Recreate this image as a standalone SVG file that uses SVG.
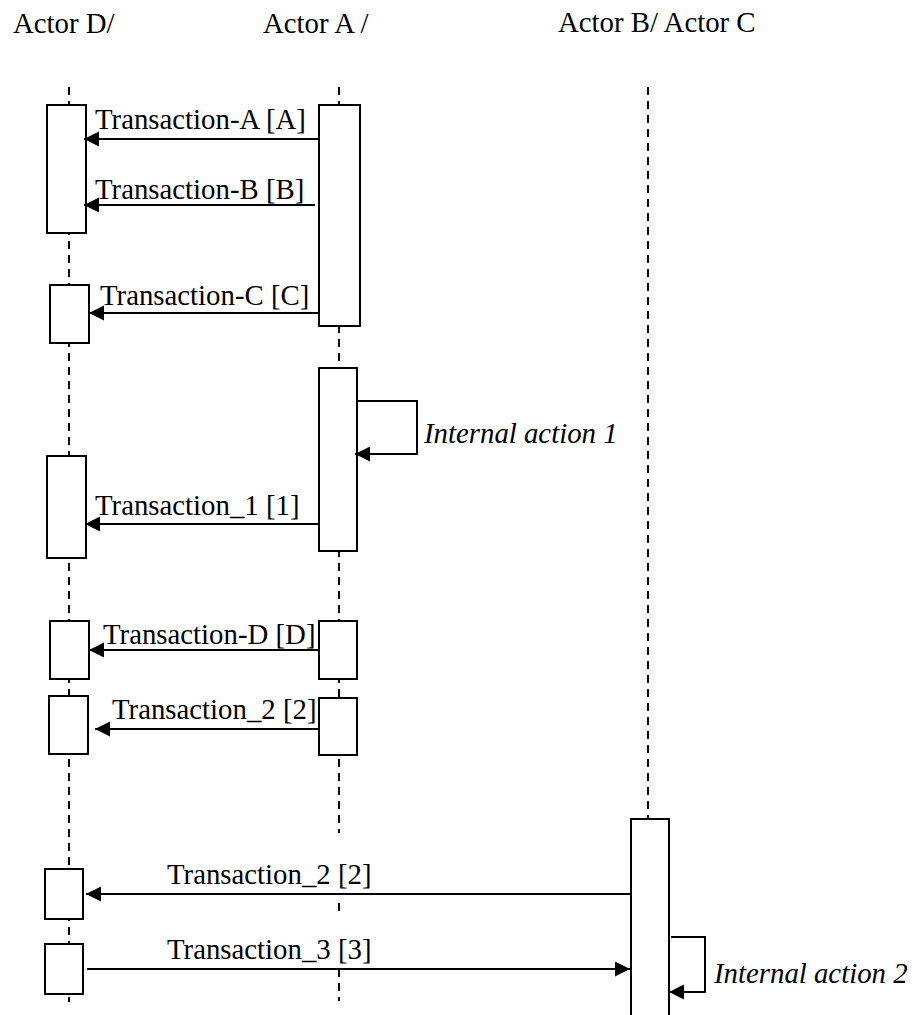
<svg xmlns="http://www.w3.org/2000/svg" width="914" height="1015" viewBox="0 0 914 1015">
<style>
text{font-family:'Liberation Serif',Tinos,'Times New Roman',Times,serif;font-size:28.8px;fill:#000}
.it{font-style:italic}
.life{stroke:#000;stroke-width:2;stroke-dasharray:8,6;fill:none}
.box{fill:#fff;stroke:#000;stroke-width:2}
.msg{stroke:#000;stroke-width:2;fill:none;marker-end:url(#ah)}
</style>
<defs>
<marker id="ah" markerUnits="userSpaceOnUse" markerWidth="16" markerHeight="16" refX="15" refY="7.5" orient="auto">
<path d="M0,0 L15,7.5 L0,15 z" fill="#000"/>
</marker>
</defs>
<rect width="914" height="1015" fill="#fff"/>
<g id="headers">
<text x="13" y="33">Actor D/</text>
<text x="263" y="33">Actor A /</text>
<text x="558" y="32">Actor B/ Actor C</text>
</g>
<g id="lifelines">
<line class="life" x1="69" y1="87" x2="69" y2="1002"/>
<line class="life" x1="339" y1="87" x2="339" y2="833"/>
<line class="life" x1="339" y1="903" x2="339" y2="915"/>
<line class="life" x1="339" y1="969" x2="339" y2="1001"/>
<line class="life" x1="648" y1="87" x2="648" y2="819"/>
</g>
<g id="actorD">
<rect id="d1" class="box" x="47" y="105" width="39" height="128"/>
<rect id="d2" class="box" x="50" y="285" width="39" height="58"/>
<rect id="d3" class="box" x="47" y="456" width="39" height="102"/>
<rect id="d4" class="box" x="50" y="621" width="39" height="58"/>
<rect id="d5" class="box" x="49" y="696" width="39" height="58"/>
<rect id="d6" class="box" x="45" y="869" width="38" height="50"/>
<rect id="d7" class="box" x="45" y="944" width="38" height="50"/>
</g>
<g id="actorA">
<rect id="a1" class="box" x="319" y="105" width="41" height="221"/>
<rect id="a2" class="box" x="319" y="368" width="38" height="183"/>
<rect id="a3" class="box" x="319" y="621" width="38" height="58"/>
<rect id="a4" class="box" x="319" y="698" width="38" height="57"/>
</g>
<g id="actorB">
<rect id="b1" class="box" x="631" y="819" width="38" height="210"/>
</g>
<g id="connectors">
<line class="msg" x1="319" y1="139" x2="84" y2="139"/>
<line class="msg" x1="315" y1="205" x2="84" y2="205"/>
<line class="msg" x1="319" y1="313" x2="89" y2="313"/>
<path class="msg" d="M357,401 H417 V454 H355"/>
<line class="msg" x1="319" y1="524" x2="85" y2="524"/>
<line class="msg" x1="319" y1="650" x2="89" y2="650"/>
<line class="msg" x1="319" y1="729" x2="95" y2="729"/>
<line class="msg" x1="631" y1="894" x2="86" y2="894"/>
<line class="msg" x1="87" y1="969" x2="630" y2="969"/>
<path class="msg" d="M671,937 H705 V992 H669"/>
</g>
<g id="labels">
<text x="95" y="129">Transaction-A [A]</text>
<text x="95" y="199">Transaction-B [B]</text>
<text x="100" y="305">Transaction-C [C]</text>
<text class="it" x="424" y="443">Internal action 1</text>
<text x="95" y="515">Transaction_1 [1]</text>
<text x="103" y="644">Transaction-D [D]</text>
<text x="112" y="719">Transaction_2 [2]</text>
<text x="167" y="884">Transaction_2 [2]</text>
<text x="167" y="959">Transaction_3 [3]</text>
<text class="it" x="714" y="983">Internal action 2</text>
</g>
</svg>
